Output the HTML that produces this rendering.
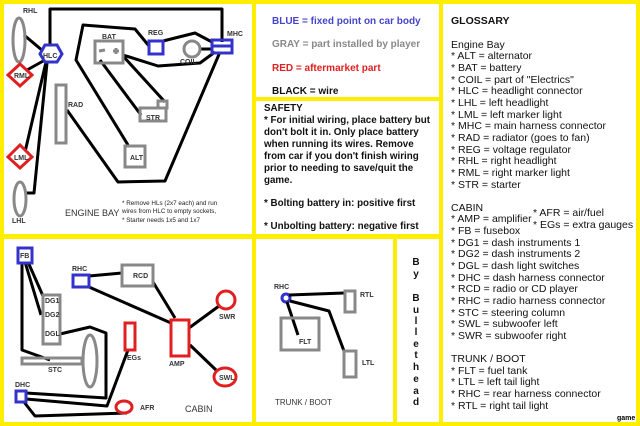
<!DOCTYPE html>
<html><head><meta charset="utf-8"><style>
html,body{margin:0;padding:0;background:#fff}
svg{display:block}
text{font-family:"Liberation Sans",Arial,sans-serif}
</style></head><body>
<svg width="640" height="426" viewBox="0 0 640 426" xmlns="http://www.w3.org/2000/svg">
<rect width="640" height="426" fill="#fff"/>
<g fill="#ffee00">
<rect x="0" y="0" width="640" height="4"/>
<rect x="0" y="422" width="640" height="4"/>
<rect x="0" y="0" width="4" height="426"/>
<rect x="636" y="0" width="4" height="426"/>
<rect x="252" y="0" width="4" height="426"/>
<rect x="439" y="0" width="4" height="426"/>
<rect x="0" y="234" width="443" height="5"/>
<rect x="252" y="97" width="190" height="4"/>
<rect x="393" y="236" width="4" height="190"/>
</g>

<!-- ENGINE BAY -->
<g fill="none" stroke="#000" stroke-width="3" stroke-linejoin="round">
<polyline points="50,46 50,9 222,9 222,42"/>
<polyline points="149,46 135,29 83,25 76,60 128,145"/>
<polyline points="163,41 195,33 212,42"/>
<polyline points="215,52 200,63 158,66 123,55"/>
<polyline points="220,52 165,181 118,182 67,110"/>
<line x1="100" y1="60" x2="141" y2="115"/>
<line x1="123" y1="56" x2="165" y2="102"/>
<line x1="200" y1="49" x2="212" y2="49"/>
<line x1="24" y1="35" x2="43" y2="51"/>
<line x1="27" y1="70" x2="45" y2="60"/>
<line x1="25" y1="152" x2="46" y2="62"/>
<polyline points="25,193 34,193 47,63"/>
</g>
<g fill="none" stroke="#888" stroke-width="3">
<ellipse cx="19" cy="40" rx="6" ry="22"/>
<ellipse cx="20" cy="199" rx="6" ry="17"/>
<rect x="95" y="41" width="28" height="22"/>
<rect x="140" y="108" width="26" height="13"/>
<rect x="158" y="101" width="9" height="7"/>
<rect x="56" y="85" width="10" height="58"/>
<rect x="125" y="146" width="20" height="21"/>
<circle cx="192" cy="49" r="8"/>
<line x1="99" y1="51" x2="105" y2="50"/>
<line x1="113" y1="51" x2="119" y2="51"/><line x1="116" y1="48" x2="116" y2="54"/>
</g>
<g fill="none" stroke="#3333cc" stroke-width="3">
<polygon points="40,54 45,45 57,45 62,54 57,62 45,62"/>
<rect x="149" y="41" width="14" height="13"/>
<rect x="212" y="40" width="20" height="13"/>
<line x1="212" y1="46" x2="232" y2="46"/>
</g>
<g fill="#fff" stroke="#e02020" stroke-width="3">
<polygon points="20,64 32,75 20,86 8,75"/>
<polygon points="20,145 32,157 20,168 8,157"/>
</g>
<g font-size="7" font-weight="bold" fill="#333">
<text x="23" y="13">RHL</text>
<text x="43" y="58" fill="#333">HLC</text>
<text x="14" y="78">RML</text>
<text x="14" y="160">LML</text>
<text x="12" y="223">LHL</text>
<text x="102" y="39">BAT</text>
<text x="148" y="35">REG</text>
<text x="227" y="36">MHC</text>
<text x="180" y="64">COIL</text>
<text x="68" y="107">RAD</text>
<text x="146" y="120">STR</text>
<text x="130" y="160">ALT</text>
</g>
<text x="65" y="216" font-size="9" fill="#333">ENGINE BAY</text>
<g font-size="6.3" fill="#222">
<text x="122" y="205">* Remove HLs (2x7 each) and run</text>
<text x="122" y="213">wires from HLC to empty sockets,</text>
<text x="122" y="222">* Starter needs 1x5 and 1x7</text>
</g>

<!-- LEGEND -->
<g font-size="10" font-weight="bold">
<text x="272" y="24" fill="#4444cc">BLUE = fixed point on car body</text>
<text x="272" y="47" fill="#888">GRAY = part installed by player</text>
<text x="272" y="71" fill="#e02020">RED = aftermarket part</text>
<text x="272" y="94" fill="#111">BLACK = wire</text>
</g>
<g font-size="9.8" font-weight="bold" fill="#111">
<text x="264" y="111">SAFETY</text>
<text x="264" y="123">*  For initial wiring, place battery but</text>
<text x="264" y="135">don't bolt it in.  Only place battery</text>
<text x="264" y="147">when running its wires.  Remove</text>
<text x="264" y="159">from car if you don't finish wiring</text>
<text x="264" y="171">prior to needing to save/quit the</text>
<text x="264" y="183">game.</text>
<text x="264" y="206">*  Bolting battery in:  positive first</text>
<text x="264" y="229">*  Unbolting battery:  negative first</text>
</g>

<!-- GLOSSARY -->
<g font-size="10.5" fill="#111">
<text x="451" y="24" font-weight="bold">GLOSSARY</text>
<text x="451" y="48">Engine Bay</text>
<text x="451" y="59">* ALT = alternator</text>
<text x="451" y="71">* BAT = battery</text>
<text x="451" y="83">* COIL = part of "Electrics"</text>
<text x="451" y="94">* HLC = headlight connector</text>
<text x="451" y="106">* LHL = left headlight</text>
<text x="451" y="118">* LML = left marker light</text>
<text x="451" y="129">* MHC = main harness connector</text>
<text x="451" y="141">* RAD = radiator (goes to fan)</text>
<text x="451" y="153">* REG = voltage regulator</text>
<text x="451" y="164">* RHL = right headlight</text>
<text x="451" y="176">* RML = right marker light</text>
<text x="451" y="188">* STR = starter</text>
<text x="451" y="211">CABIN</text>
<text x="451" y="222">* AMP = amplifier</text>
<text x="533" y="216">* AFR = air/fuel</text>
<text x="533" y="228">* EGs = extra gauges</text>
<text x="451" y="234">* FB = fusebox</text>
<text x="451" y="246">* DG1 = dash instruments 1</text>
<text x="451" y="257">* DG2 = dash instruments 2</text>
<text x="451" y="269">* DGL = dash light switches</text>
<text x="451" y="281">* DHC = dash harness connector</text>
<text x="451" y="292">* RCD = radio or CD player</text>
<text x="451" y="304">* RHC = radio harness connector</text>
<text x="451" y="316">* STC = steering column</text>
<text x="451" y="327">* SWL = subwoofer left</text>
<text x="451" y="339">* SWR = subwoofer right</text>
<text x="451" y="362">TRUNK / BOOT</text>
<text x="451" y="374">* FLT = fuel tank</text>
<text x="451" y="385">* LTL = left tail light</text>
<text x="451" y="397">* RHC = rear harness connector</text>
<text x="451" y="409">* RTL = right tail light</text>
</g>
<text x="617" y="420" font-size="7" font-weight="bold" fill="#000">game</text>

<!-- CABIN -->
<g fill="none" stroke="#000" stroke-width="3" stroke-linejoin="round">
<polyline points="22,263 22,350 50,360"/>
<line x1="28" y1="262" x2="43" y2="296"/>
<line x1="25" y1="262" x2="41" y2="315"/>
<polyline points="60,334 90,327 106,333 106,398 26,393"/>
<polyline points="26,399 107,406 128,350"/>
<polyline points="24,402 35,416 127,413"/>
<line x1="89" y1="276" x2="122" y2="273"/>
<line x1="89" y1="287" x2="171" y2="323"/>
<line x1="153" y1="282" x2="175" y2="318"/>
<line x1="189" y1="328" x2="219" y2="306"/>
<line x1="190" y1="345" x2="216" y2="370"/>
</g>
<g fill="none" stroke="#888" stroke-width="3">
<rect x="43" y="295" width="17" height="49"/>
<rect x="22" y="358" width="60" height="6"/>
<ellipse cx="90" cy="361" rx="7" ry="26"/>
<rect x="122" y="265" width="31" height="21"/>
</g>
<g fill="none" stroke="#3333cc" stroke-width="3">
<rect x="18" y="248" width="14" height="15"/>
<rect x="73" y="275" width="16" height="12"/>
<rect x="16" y="391" width="10" height="11"/>
<circle cx="286" cy="298" r="4"/>
</g>
<g fill="none" stroke="#e02020" stroke-width="3">
<rect x="125" y="323" width="10" height="27"/>
<rect x="171" y="320" width="18" height="36"/>
<circle cx="226" cy="300" r="9"/>
<ellipse cx="225" cy="377" rx="11" ry="9"/>
<ellipse cx="124" cy="407" rx="8" ry="6"/>
</g>
<g font-size="7" font-weight="bold" fill="#333">
<text x="20" y="258">FB</text>
<text x="45" y="303">DG1</text>
<text x="45" y="317">DG2</text>
<text x="45" y="336">DGL</text>
<text x="48" y="372">STC</text>
<text x="72" y="271">RHC</text>
<text x="133" y="278">RCD</text>
<text x="127" y="360">EGs</text>
<text x="169" y="366">AMP</text>
<text x="219" y="319">SWR</text>
<text x="219" y="380">SWL</text>
<text x="15" y="387">DHC</text>
<text x="140" y="410">AFR</text>
</g>
<text x="185" y="412" font-size="9" fill="#333">CABIN</text>

<!-- TRUNK -->
<g fill="none" stroke="#000" stroke-width="3" stroke-linejoin="round">
<line x1="289" y1="295" x2="344" y2="293"/>
<polyline points="290,301 329,311 344,351"/>
<line x1="287" y1="302" x2="298" y2="335"/>
</g>
<g fill="none" stroke="#888" stroke-width="3">
<rect x="345" y="291" width="10" height="21"/>
<rect x="344" y="351" width="12" height="26"/>
<rect x="281" y="318" width="38" height="32"/>
</g>
<g font-size="7" font-weight="bold" fill="#333">
<text x="274" y="289">RHC</text>
<text x="360" y="297">RTL</text>
<text x="362" y="365">LTL</text>
<text x="299" y="344">FLT</text>
</g>
<text x="275" y="405" font-size="8" fill="#333">TRUNK / BOOT</text>
<g font-size="10" font-weight="bold" fill="#111" text-anchor="middle">
<text x="416" y="265">B</text>
<text x="416" y="277">y</text>
<text x="416" y="301">B</text>
<text x="416" y="313">u</text>
<text x="416" y="324">l</text>
<text x="416" y="335">l</text>
<text x="416" y="347">e</text>
<text x="416" y="358">t</text>
<text x="416" y="370">h</text>
<text x="416" y="382">e</text>
<text x="416" y="394">a</text>
<text x="416" y="405">d</text>
</g>
</svg>
</body></html>
